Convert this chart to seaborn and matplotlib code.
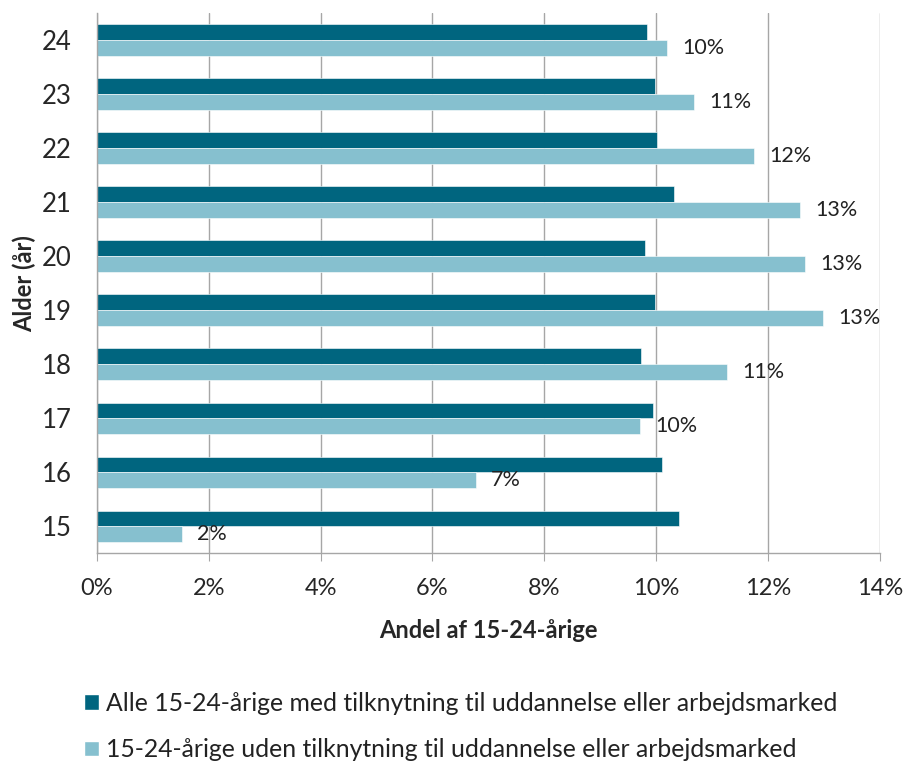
import pandas as pd
import seaborn as sns
import matplotlib.pyplot as plt
from matplotlib.patches import Patch
from matplotlib.ticker import FixedLocator

# data (percent)
ages = ['24', '23', '22', '21', '20', '19', '18', '17', '16', '15']
alle = [9.83, 9.98, 10.01, 10.32, 9.80, 9.98, 9.73, 9.94, 10.10, 10.41]
uden = [10.19, 10.67, 11.76, 12.57, 12.66, 12.98, 11.26, 9.71, 6.78, 1.52]
series = ['Alle 15-24-årige med tilknytning til uddannelse eller arbejdsmarked',
          '15-24-årige uden tilknytning til uddannelse eller arbejdsmarked']
colors = ['#00657F', '#86C0CF']

df = pd.DataFrame({
    'alder': ages * 2,
    'andel': alle + uden,
    'serie': [series[0]] * len(ages) + [series[1]] * len(ages),
})

sns.set_style('white')
plt.rcParams['font.family'] = ['Lato', 'DejaVu Sans']
plt.rcParams['text.color'] = '#222222'

fig = plt.figure(figsize=(9.06, 7.61), dpi=100)
ax = fig.add_axes([0.107, 0.273, 0.864, 0.710])

sns.barplot(data=df, y='alder', x='andel', hue='serie', order=ages,
            hue_order=series, palette=colors, saturation=1, orient='h',
            width=0.58, edgecolor='white', linewidth=0.4, legend=False, ax=ax)

# data labels on the light bars
ax.bar_label(ax.containers[1], labels=[f'{v:.0f}%' for v in uden],
             padding=11, fontsize=15.5, color='#222222')

ax.set_xlim(0, 14)
ax.set_ylim(9.5, -0.5)
ax.set_xticks(range(0, 15, 2))
ax.set_xticklabels([f'{t}%' for t in range(0, 15, 2)])
ax.yaxis.set_minor_locator(FixedLocator([i - 0.5 for i in range(11)]))

ax.grid(axis='x', color='#A6A6A6', linewidth=1)
ax.set_axisbelow(True)
for s in ['top', 'right']:
    ax.spines[s].set_visible(False)
for s in ['left', 'bottom']:
    ax.spines[s].set_color('#A6A6A6')
    ax.spines[s].set_linewidth(1)

ax.tick_params(axis='y', which='major', length=0, pad=18, labelsize=18.5)
ax.tick_params(axis='y', which='minor', length=8, color='#A6A6A6', direction='out')
ax.tick_params(axis='x', length=6, color='#A6A6A6', direction='out',
               pad=12, labelsize=17, bottom=True)

ax.set_xlabel('Andel af 15-24-årige', fontsize=17, fontweight='bold', labelpad=14)
ax.set_ylabel('Alder (år)', fontsize=17, fontweight='bold', labelpad=4)

handles = [Patch(facecolor=c, edgecolor='white') for c in colors]
fig.legend(handles, series, loc='upper left', bbox_to_anchor=(0.082, 0.104),
           frameon=False, fontsize=17.8, handlelength=0.6, handleheight=0.6,
           handletextpad=0.3, labelspacing=0.95, borderaxespad=0)

fig.savefig('out.png', dpi=100)
